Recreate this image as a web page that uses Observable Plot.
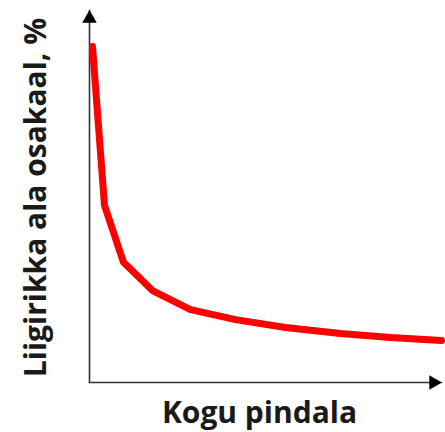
<!DOCTYPE html>
<html>
<head>
<meta charset="utf-8">
<script src="https://cdn.jsdelivr.net/npm/d3@7"></script>
<script src="https://cdn.jsdelivr.net/npm/@observablehq/plot@0.6"></script>
<style>
  html, body { margin: 0; padding: 0; background: #fff; }
</style>
</head>
<body>
<div id="chart"></div>
<script>
// Curve values (arbitrary units)
const areaX = [0.85, 4.26, 9.66, 17.9, 28.7, 41.5, 55.7, 71.3, 85.5, 100];
const shareY = [90.3, 47.6, 32.3, 24.7, 19.6, 16.9, 14.8, 13.2, 12.1, 11.3];
const xLabel = "Kogu pindala";
const yLabel = "Liigirikka ala osakaal, %";
const axisMax = 100;

const curve = areaX.map((x, i) => ({x, y: shareY[i]}));
const font = "'Open Sans', 'DejaVu Sans', sans-serif";

const chart = Plot.plot({
  width: 445,
  height: 432,
  marginLeft: 89,
  marginRight: 4,
  marginTop: 10,
  marginBottom: 50,
  x: {domain: [0, axisMax], axis: null},
  y: {domain: [0, axisMax], axis: null},
  style: {background: "white", fontFamily: font},
  marks: [
    // axes
    Plot.line([{x: 0, y: 0}, {x: 0, y: axisMax}], {x: "x", y: "y", stroke: "#333", strokeWidth: 1.6}),
    Plot.line([{x: 0, y: 0}, {x: axisMax, y: 0}], {x: "x", y: "y", stroke: "#333", strokeWidth: 1.6}),
    Plot.dot([{x: 0, y: axisMax}], {x: "x", y: "y", symbol: "triangle", r: 5.4, fill: "#000", stroke: null, dy: 8}),
    Plot.dot([{x: axisMax, y: 0}], {x: "x", y: "y", symbol: "triangle", r: 5.4, fill: "#000", stroke: null, rotate: 90, dx: -8}),
    // curve
    Plot.line(curve, {x: "x", y: "y", stroke: "#ff0000", strokeWidth: 7, curve: "linear", strokeLinejoin: "round", strokeLinecap: "round"}),
    // labels
    Plot.text([yLabel], {frameAnchor: "left", rotate: -90, dx: -53, dy: 1, fontSize: 30, fontWeight: "bold", fill: "#1a1a1a", textAnchor: "middle", lineAnchor: "middle"}),
    Plot.text([xLabel], {frameAnchor: "bottom", dy: 31, dx: -6, fontSize: 30, fontWeight: "bold", fill: "#1a1a1a", textAnchor: "middle", lineAnchor: "middle"})
  ]
});
document.getElementById("chart").appendChild(chart);
</script>
</body>
</html>
